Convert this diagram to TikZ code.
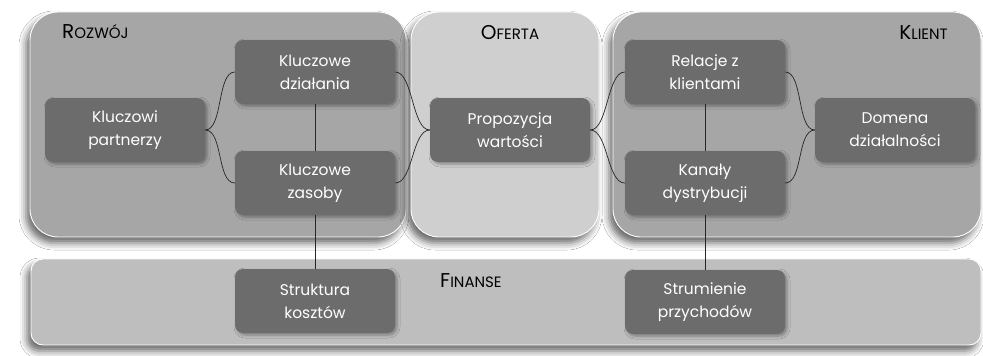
\documentclass[tikz,border=0pt]{standalone}
\usepackage{fontspec}
\setmainfont{Poppins}
\usetikzlibrary{shadows.blur}

\definecolor{panelA}{RGB}{166,166,166}
\definecolor{panelB}{RGB}{206,207,206}
\definecolor{panelC}{RGB}{189,190,189}
\definecolor{boxc}{RGB}{108,108,108}

\newcommand\myscaps[2]{{\fontsize{20}{20}\selectfont #1}{\fontsize{15}{15}\selectfont #2}}

\begin{document}
\begin{tikzpicture}[x=1pt,y=-1pt,
  panel/.style={rectangle, rounded corners=28pt, draw=white, line width=0.9pt, inner sep=0pt,
    blur shadow={shadow xshift=-4pt, shadow yshift=-6pt, shadow blur radius=7pt, shadow opacity=60}},
  finpanel/.style={panel, rounded corners=12pt},
  box/.style={rectangle, rounded corners=8pt, fill=boxc, draw=none, text=white,
    minimum width=160pt, minimum height=64pt, inner sep=0pt, align=center,
    font=\fontsize{15.5}{23}\selectfont,
    blur shadow={shadow xshift=2pt, shadow yshift=-2pt, shadow blur radius=3pt, shadow opacity=35}},
  title/.style={inner sep=0pt, text=black},
  conn/.style={draw=black!85, line width=0.7pt}
]
\useasboundingbox (0,0) rectangle (983,356);
\fill[white] (0,0) rectangle (983,356);

% panels
\node[panel, fill=panelA, minimum width=376pt, minimum height=225pt] (rozwoj) at (218,124.5) {};
\node[panel, fill=panelB, minimum width=188pt, minimum height=225pt] (oferta) at (505,124.5) {};
\node[panel, fill=panelA, minimum width=368pt, minimum height=225pt] (klient) at (797,124.5) {};
\node[finpanel, fill=panelC, minimum width=950pt, minimum height=86pt] (finanse) at (506,302) {};

% titles
\node[title, anchor=base west] (troz) at (62,38) {\myscaps{R}{OZWÓJ}};
\node[title, anchor=base] (tofe) at (510,39) {\myscaps{O}{FERTA}};
\node[title, anchor=base east] (tkli) at (948,39) {\myscaps{K}{LIENT}};
\node[title, anchor=base west] (tfin) at (440,287) {\myscaps{F}{INANSE}};

% boxes
\node[box] (kp) at (125,130) {Kluczowi\\partnerzy};
\node[box] (kd) at (315,72) {Kluczowe\\działania};
\node[box] (kz) at (315,183) {Kluczowe\\zasoby};
\node[box] (pw) at (510,130) {Propozycja\\wartości};
\node[box] (rk) at (705,72) {Relacje z\\klientami};
\node[box] (kk) at (705,183) {Kanały\\dystrybucji};
\node[box] (dd) at (895,130) {Domena\\działalności};
\node[box] (sk) at (315,301) {Struktura\\kosztów};
\node[box] (sp) at (705,302) {Strumienie\\przychodów};

% connectors
\draw[conn] (kp.east) .. controls +(18,0) and +(-18,0) .. (kd.west);
\draw[conn] (kp.east) .. controls +(18,0) and +(-18,0) .. (kz.west);
\draw[conn] (kd.east) .. controls +(18,0) and +(-18,0) .. (pw.west);
\draw[conn] (kz.east) .. controls +(18,0) and +(-18,0) .. (pw.west);
\draw[conn] (pw.east) .. controls +(18,0) and +(-18,0) .. (rk.west);
\draw[conn] (pw.east) .. controls +(18,0) and +(-18,0) .. (kk.west);
\draw[conn] (rk.east) .. controls +(18,0) and +(-18,0) .. (dd.west);
\draw[conn] (kk.east) .. controls +(18,0) and +(-18,0) .. (dd.west);
\draw[conn] (kd.south) -- (kz.north);
\draw[conn] (kz.south) -- (sk.north);
\draw[conn] (rk.south) -- (kk.north);
\draw[conn] (kk.south) -- (sp.north);
\end{tikzpicture}
\end{document}
